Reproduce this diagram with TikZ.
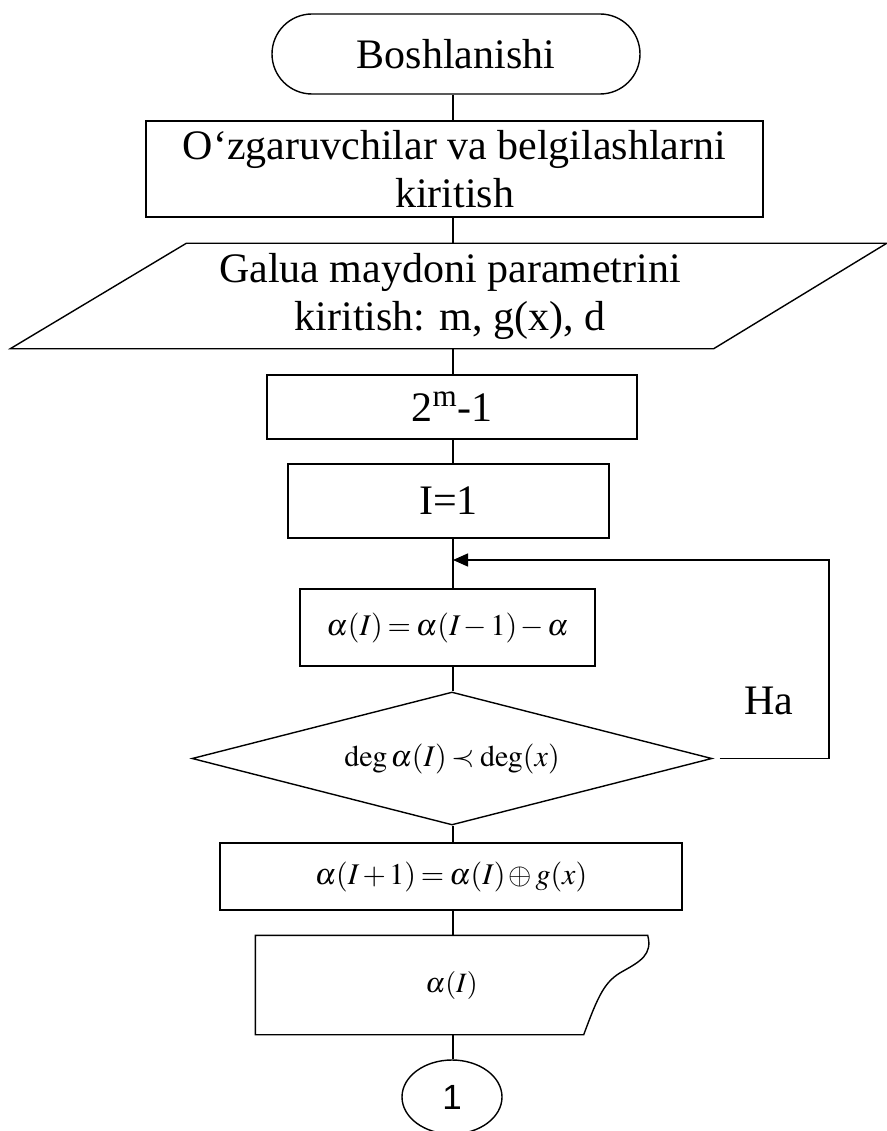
\documentclass[tikz,border=0pt]{standalone}
\usepackage{mathptmx}
\usepackage[no-math]{fontspec}
\setmainfont{Liberation Serif}
\newfontfamily\numfont{Liberation Sans}
\usetikzlibrary{shapes.geometric,arrows.meta}
\medmuskip=2mu
\thickmuskip=3mu

\begin{document}
\begin{tikzpicture}[x=1pt, y=-1pt, line width=1.4pt,
    every node/.style={font=\fontsize{42}{48}\selectfont, inner sep=0pt},
    blk/.style={draw, rectangle},
    term/.style={draw, rectangle, rounded corners=40pt},
    dec/.style={draw, diamond, aspect=3.9},
    mth/.style={font=\fontsize{30}{34}\selectfont}
  ]
  \useasboundingbox (0,0) rectangle (886,1131);
  \coordinate (spine) at (453,0);

  % Bloklar
  \node[term, minimum width=368, minimum height=80] (start) at (456,54) {Boshlanishi};
  \node[blk, minimum width=617, minimum height=96, align=center] (vars) at (454.5,169)
    {O‘zgaruvchilar va belgilashlarni\\kiritish};
  \node[minimum width=526, minimum height=104, align=center] (galua) at (450,296)
    {Galua maydoni parametrini\\kiritish: m, g(x), d};
  \draw ([xshift=-176]galua.south west) -- (galua.north west)
    -- ([xshift=173]galua.north east) -- (galua.south east) -- cycle;
  \node[blk, minimum width=370, minimum height=64] (pow) at (452,407) {2\textsuperscript{m}-1};
  \node[blk, minimum width=321, minimum height=74] (init) at (448.5,501) {I=1};
  \node[blk, mth, minimum width=295, minimum height=77] (calc) at (447.5,627.5)
    {$\alpha(I)=\alpha(I-1)-\alpha$};
  \node[dec, mth, minimum width=520, minimum height=133] (test) at (452,758.5)
    {$\deg\alpha(I)\prec\deg(x)$};
  \node[blk, mth, minimum width=462, minimum height=67] (upd) at (451,876.5)
    {$\alpha(I+1)=\alpha(I)\oplus g(x)$};
  \node[font=\fontsize{28}{32}\selectfont, minimum width=391, minimum height=98] (outp) at (451.5,985)
    {$\alpha(I)$};
  \draw (outp.south west) -- (outp.north west) -- (outp.north east)
    .. controls ([shift={(5,19)}]outp.north east) and ([shift={(-7,26)}]outp.north east)
    .. ([shift={(-25,36)}]outp.north east)
    .. controls ([shift={(-43,46)}]outp.north east) and ([shift={(-49,59)}]outp.north east)
    .. ([xshift=-64]outp.south east) -- cycle;
  \node[draw, ellipse, minimum width=100, minimum height=74,
        font=\numfont\fontsize{35}{40}\selectfont] (con) at (452,1097) {1};

  % Ulanishlar
  \foreach \a/\b in {start/vars, vars/galua, galua/pow, pow/init, init/calc,
                     calc/test, test/upd, upd/outp, outp/con}
    \draw (\a.south -| spine) -- (\b.north -| spine);

  % Qaytish
  \coordinate (back) at (829,560);
  \draw[-{Triangle[length=15pt,width=13pt]}] ([xshift=7]test.east) -| (back) -- (back -| spine);
  \node[anchor=base] (ha) at (768.5,714) {Ha};
\end{tikzpicture}
\end{document}
